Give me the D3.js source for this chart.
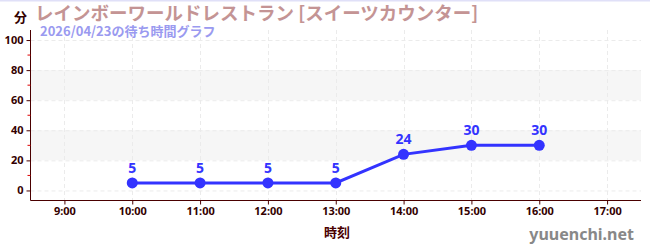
<!DOCTYPE html>
<html><head><meta charset="utf-8">
<script src="https://cdn.jsdelivr.net/npm/d3@7"></script>
<style>
body{margin:0;background:#fff;}
svg{display:block;font-family:"Noto Sans CJK JP","Noto Sans",sans-serif;}
</style></head>
<body><svg id="c" width="650" height="250"></svg>
<script>
const hours = [10, 11, 12, 13, 14, 15, 16];
const waits = [5, 5, 5, 5, 24, 30, 30];
const xTickHours = [9, 10, 11, 12, 13, 14, 15, 16, 17];
const yTicks = [0, 20, 40, 60, 80, 100];
const yMinorTicks = [10, 30, 50, 70, 90];
const bands = [[20, 40], [60, 80]];
const title = "レインボーワールドレストラン [スイーツカウンター]";
const subtitle = "2026/04/23の待ち時間グラフ";
const yUnit = "分";
const xLabel = "時刻";
const credit = "yuuenchi.net";

const svg = d3.select("#c");
const L = 30.5, R = 641, T = 30, B = 200.5;
const x = d3.scaleLinear().domain([8.5, 17.5]).range([L, R]);
const y = d3.scaleLinear().domain([-6.67, 106.67]).range([B, T]);

// top border
svg.append("rect").attr("x",0).attr("y",0).attr("width",650).attr("height",1.5).attr("fill","#e0e0f8");

// bands
svg.selectAll(".band").data(bands).join("rect")
  .attr("x", L).attr("width", R - L)
  .attr("y", d => y(d[1])).attr("height", d => y(d[0]) - y(d[1]))
  .attr("fill", "#f6f6f6");

// grid
svg.selectAll(".hg").data(yTicks).join("line")
  .attr("x1", L).attr("x2", R).attr("y1", d => y(d)+0.5).attr("y2", d => y(d)+0.5)
  .attr("stroke", "#ebebeb").attr("stroke-dasharray", "4,3");
svg.selectAll(".vg").data(xTickHours).join("line")
  .attr("x1", d => Math.round(x(d))+0.5).attr("x2", d => Math.round(x(d))+0.5).attr("y1", T).attr("y2", B)
  .attr("stroke", "#ebebeb").attr("stroke-dasharray", "4,3");

const axisColor = "#4a0000";
// y axis
const ya = svg.append("g").attr("transform", `translate(${L},0)`)
  .call(d3.axisLeft(y).tickValues(yTicks).tickSize(4).tickPadding(3));
ya.select(".domain").attr("stroke", axisColor).attr("d", `M0,${T}V${B}`);
ya.selectAll(".tick line").attr("stroke", axisColor);
ya.selectAll(".tick text").attr("fill", "#330000").style("font-size","11px").style("font-weight","bold").style("font-family","'Noto Sans'");
svg.append("g").selectAll("line").data(yMinorTicks).join("line")
  .attr("x1", L-3).attr("x2", L).attr("y1", d => y(d)).attr("y2", d => y(d))
  .attr("stroke", "#dd0000");

// x axis
const xa = svg.append("g").attr("transform", `translate(0,${B})`)
  .call(d3.axisBottom(x).tickValues(xTickHours).tickFormat(d => d + ":00").tickSize(4).tickPadding(3));
xa.select(".domain").attr("stroke", axisColor).attr("d", `M${L},0H${R}`);
xa.selectAll(".tick line").attr("stroke", axisColor);
xa.selectAll(".tick text").attr("fill", "#330000").style("font-size","11px").style("font-weight","bold").style("font-family","'Noto Sans'");

// line
const lineColor = "#3333ff";
svg.append("path").datum(hours.map((h,i)=>[h,waits[i]]))
  .attr("fill","none").attr("stroke",lineColor).attr("stroke-width",3)
  .attr("d", d3.line().x(d=>x(d[0])).y(d=>y(d[1])));
svg.selectAll(".pt").data(hours).join("circle")
  .attr("cx", d => x(d)).attr("cy", (d,i) => y(waits[i])).attr("r", 5.5).attr("fill", lineColor);
svg.selectAll(".lbl").data(hours).join("text")
  .attr("x", d => x(d)).attr("y", (d,i) => y(waits[i]) - 10)
  .attr("text-anchor","middle").attr("fill", lineColor)
  .style("font-size","14px").style("font-weight","bold").style("font-family","'Noto Sans'")
  .text((d,i) => waits[i]);

// texts
svg.append("text").attr("x", 14).attr("y", 22).attr("fill","#330000")
  .style("font-size","13px").style("font-weight","bold").text(yUnit);
svg.append("text").attr("x", 35).attr("y", 20).attr("fill","#c49494")
  .style("font-size","18.5px").style("font-weight","bold").text(title);
svg.append("text").attr("x", 40).attr("y", 36).attr("fill","#9a9af0")
  .style("font-size","13px").style("font-weight","bold").text(subtitle);
svg.append("text").attr("x", 337).attr("y", 237).attr("text-anchor","middle").attr("fill","#4a0000")
  .style("font-size","13px").style("font-weight","bold").text(xLabel);
svg.append("text").attr("x", 634).attr("y", 240).attr("text-anchor","end").attr("fill","#888")
  .style("font-size","16px").style("font-weight","bold").style("font-family","'Noto Sans'").text(credit);
</script></body></html>
